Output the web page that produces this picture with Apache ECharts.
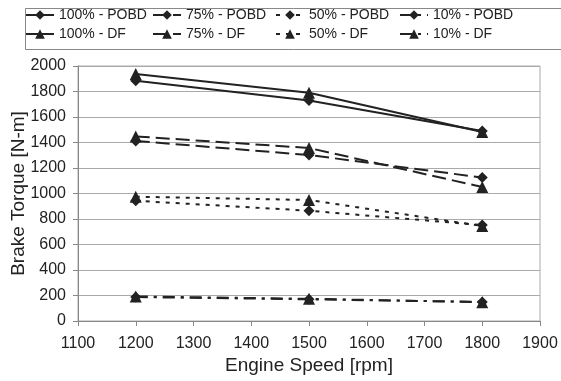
<!DOCTYPE html>
<html>
<head>
<meta charset="utf-8">
<script src="https://cdn.jsdelivr.net/npm/echarts@6/dist/echarts.min.js"></script>
<style>
  html, body { margin: 0; padding: 0; background: #fff; }
  #chart { width: 561px; height: 381px; }
</style>
</head>
<body>
<div id="chart"></div>
<script>
// engine speeds (rpm)
const speeds = [1200, 1500, 1800]

// brake torque (N-m)
const pobd100 = [1885, 1730, 1490]
const pobd75 = [1412, 1302, 1125]
const pobd50 = [943, 865, 752]
const pobd10 = [188, 170, 150]
const df100 = [1937, 1790, 1482]
const df75 = [1448, 1357, 1051]
const df50 = [975, 949, 745]
const df10 = [193, 174, 148]

const names = [
	'100% - POBD', '75% - POBD', '50% - POBD', '10% - POBD',
	'100% - DF', '75% - DF', '50% - DF', '10% - DF',
]
const values = [pobd100, pobd75, pobd50, pobd10, df100, df75, df50, df10]
const dashes = ['solid', [14, 6], [4, 6], [12, 6, 3, 6]]

const ink = '#222'

const series = values.map((v, i) => ({
	name: names[i],
	type: 'line',
	data: speeds.map((s, k) => [s, v[k]]),
	symbol: i < 4 ? 'diamond' : 'triangle',
	symbolSize: i < 4 ? 11 : 12,
	showSymbol: true,
	itemStyle: { color: ink },
	lineStyle: { color: ink, width: 2, type: dashes[i % 4] },
	emphasis: { disabled: true },
	z: i < 4 ? 2 : 3,
}))

// one legend column per load level, POBD above DF
const columnLeft = [25, 152, 275, 399]
const legends = columnLeft.map((x, c) => ({
	orient: 'vertical',
	left: x,
	top: 8,
	padding: 0,
	itemGap: 5,
	itemWidth: 28,
	itemHeight: 12,
	data: [names[c], names[c + 4]],
	textStyle: { fontSize: 14, color: ink },
}))

const myChart = echarts.init(document.getElementById('chart'))
myChart.setOption({
	animation: false,
	backgroundColor: '#fff',
	textStyle: { fontFamily: 'Liberation Sans, Arial, sans-serif' },
	legend: legends,
	graphic: [{
		type: 'rect',
		left: 23,
		top: 6,
		shape: { width: 545, height: 41 },
		style: { fill: 'none', stroke: '#888', lineWidth: 1 },
		silent: true,
	}],
	grid: {
		left: 78,
		right: 21,
		top: 66,
		bottom: 60,
		outerBoundsMode: 'none',
		containLabel: false,
		show: true,
		borderColor: '#aaa',
		borderWidth: 1,
	},
	xAxis: {
		type: 'value',
		min: 1100,
		max: 1900,
		interval: 100,
		name: 'Engine Speed [rpm]',
		nameLocation: 'middle',
		nameGap: 35,
		nameMoveOverlap: false,
		nameTextStyle: { fontSize: 19, color: ink },
		axisLine: { lineStyle: { color: '#888' } },
		axisTick: { show: true, length: 5, lineStyle: { color: '#888' } },
		axisLabel: { fontSize: 16, color: ink, margin: 15, formatter: (v) => String(v) },
		splitLine: { show: false },
	},
	yAxis: {
		type: 'value',
		min: 0,
		max: 2000,
		interval: 200,
		name: 'Brake Torque [N-m]',
		nameLocation: 'middle',
		nameGap: 50,
		nameMoveOverlap: false,
		nameTextStyle: { fontSize: 19, color: ink },
		axisLine: { show: true, lineStyle: { color: '#888' } },
		axisTick: { show: true, length: 5, lineStyle: { color: '#888' } },
		axisLabel: { fontSize: 16, color: ink, margin: 12, formatter: (v) => String(v) },
		splitLine: { lineStyle: { color: '#aaa', width: 1 } },
	},
	series: series,
})
</script>
</body>
</html>
